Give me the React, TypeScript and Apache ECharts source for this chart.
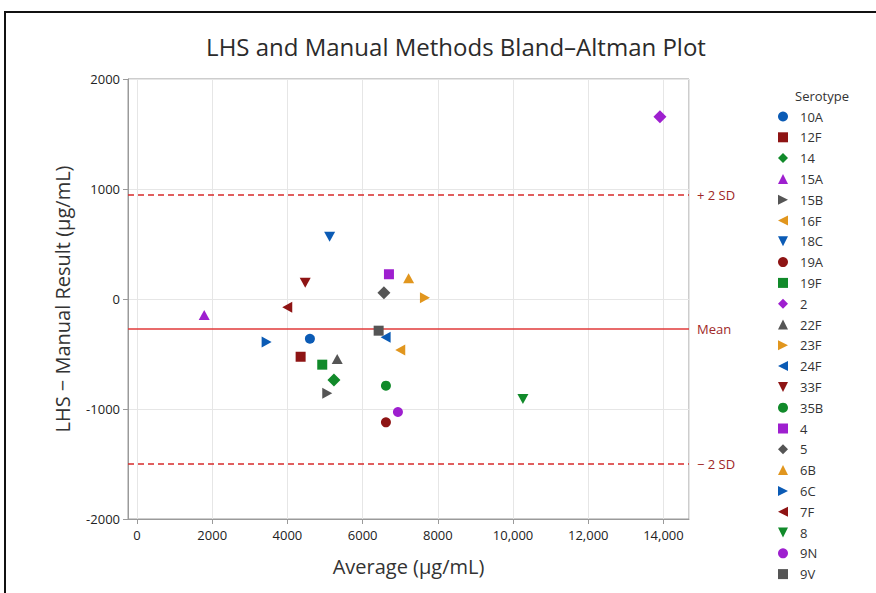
import React, { useEffect, useRef } from "react";
import * as echarts from "echarts";

const serotypes = ["10A","12F","14","15A","15B","16F","18C","19A","19F","2","22F","23F","24F","33F","35B","4","5","6B","6C","7F","8","9N","9V"];
const averages = [4598,4351,5237,1787,5059,7000,5122,6620,4926,13907,5324,7657,6612,4473,6620,6700,6566,7223,3447,3995,10263,6939,6426];
const differences = [-361,-525,-736,-145,-857,-464,566,-1121,-597,1657,-545,12,-348,148,-788,225,57,189,-391,-75,-909,-1027,-288];

const meanDiff = -273;
const upperLimit = 950;
const lowerLimit = -1497;

const xTickValues = [0,2000,4000,6000,8000,10000,12000,14000];

const palette = ["#0B5BB5", "#8E1414", "#118A2A", "#9E1FCF", "#555555", "#E1961E"];
const symbols = [
  "circle",
  "rect",
  "diamond",
  "triangle",
  "path://M0,0L10,5L0,10Z",
  "path://M10,0L0,5L10,10Z",
  "path://M0,0L10,0L5,10Z",
];
const symbolSizes: any[] = [10, 10, 13, [11, 10], [10, 11], [10, 11], [11, 10]];

const FONT = "'Open Sans', 'Noto Sans', sans-serif";

export default function App() {
  const ref = useRef<HTMLDivElement>(null);
  useEffect(() => {
    document.body.style.margin = "0";
    if (!ref.current) return;
    const chart = echarts.init(ref.current, undefined, { renderer: "svg" });

    const series: any[] = serotypes.map((name, i) => ({
      type: "scatter",
      name,
      data: [[averages[i], differences[i]]],
      symbol: symbols[i % 7],
      symbolSize: symbolSizes[i % 7],
      itemStyle: { color: palette[i % 6], opacity: 1 },
      z: 5,
    }));

    const refLabel = (text: string) => ({
      show: true,
      position: "end",
      formatter: text,
      color: "#A02828",
      fontSize: 13,
      fontFamily: FONT,
      distance: 8,
    });

    series.push({
      type: "scatter",
      name: "__ref",
      data: [],
      z: 3,
      markLine: {
        silent: true,
        symbol: "none",
        animation: false,
        data: [
          {
            yAxis: upperLimit,
            lineStyle: { color: "#D62B2B", width: 1.5, type: [6, 4] },
            label: refLabel("+ 2 SD"),
          },
          {
            yAxis: meanDiff,
            lineStyle: { color: "#E03A3A", width: 1.5, type: "solid" },
            label: refLabel("Mean"),
          },
          {
            yAxis: lowerLimit,
            lineStyle: { color: "#D62B2B", width: 1.5, type: [6, 4] },
            label: refLabel("\u2212 2 SD"),
          },
        ],
      },
    });

    chart.setOption({
      animation: false,
      textStyle: { fontFamily: FONT },
      title: {
        text: "LHS and Manual Methods Bland\u2013Altman Plot",
        left: 451,
        textAlign: "center",
        top: 29,
        textStyle: { fontSize: 24, fontWeight: "normal", color: "#2b2b2b", fontFamily: FONT },
      },
      grid: {
        left: 128,
        right: 187,
        top: 79,
        bottom: 74,
        show: true,
        borderColor: "#9a9a9a",
        borderWidth: 1,
        backgroundColor: "transparent",
      },
      legend: {
        orient: "vertical",
        left: 773,
        top: 104,
        itemWidth: 10,
        itemHeight: 10,
        itemGap: 5.8,
        data: serotypes,
        textStyle: { fontSize: 13, color: "#333", lineHeight: 15, padding: [0, 0, 0, 7], fontFamily: FONT },
      },
      xAxis: {
        type: "value",
        min: -240,
        max: 14680,
        splitNumber: 7,
        minInterval: 2000,
        maxInterval: 2000,
        name: "Average (\u00b5g/mL)",
        nameLocation: "middle",
        nameGap: 37,
        nameTextStyle: { fontSize: 20, color: "#333", fontFamily: FONT },
        axisLine: { show: true, onZero: false, lineStyle: { color: "#9a9a9a" } },
        axisTick: { show: true, length: 5, lineStyle: { color: "#9a9a9a" } },
        axisLabel: {
          showMinLabel: false,
          showMaxLabel: false,
          margin: 9,
          fontSize: 13,
          color: "#222",
          fontFamily: FONT,
          formatter: (v: number) => (xTickValues.includes(v) ? (v >= 10000 ? v.toLocaleString("en-US") : String(v)) : ""),
        },
        splitLine: { show: true, lineStyle: { color: "#e6e6e6" } },
      },
      yAxis: {
        type: "value",
        min: -2000,
        max: 2000,
        interval: 1000,
        name: "LHS \u2212 Manual Result (\u00b5g/mL)",
        nameLocation: "middle",
        nameGap: 56,
        nameTextStyle: { fontSize: 20, color: "#333", fontFamily: FONT },
        axisLine: { show: true, onZero: false, lineStyle: { color: "#9a9a9a" } },
        axisTick: { show: true, length: 5, lineStyle: { color: "#9a9a9a" } },
        axisLabel: { margin: 8, fontSize: 13, color: "#222", fontFamily: FONT, formatter: (v: number) => String(v) },
        splitLine: { show: true, lineStyle: { color: "#e6e6e6" } },
      },
      graphic: [
        {
          type: "rect",
          shape: { x: 5, y: 12, width: 900, height: 700 },
          style: { fill: "none", stroke: "#111", lineWidth: 2 },
          silent: true,
        },
        {
          type: "text",
          left: 795,
          top: 89,
          style: { text: "Serotype", fontSize: 13, fill: "#333", fontFamily: FONT },
          silent: true,
        },
      ],
      series,
    });
    return () => chart.dispose();
  }, []);
  return <div ref={ref} style={{ width: 876, height: 593 }} />;
}
